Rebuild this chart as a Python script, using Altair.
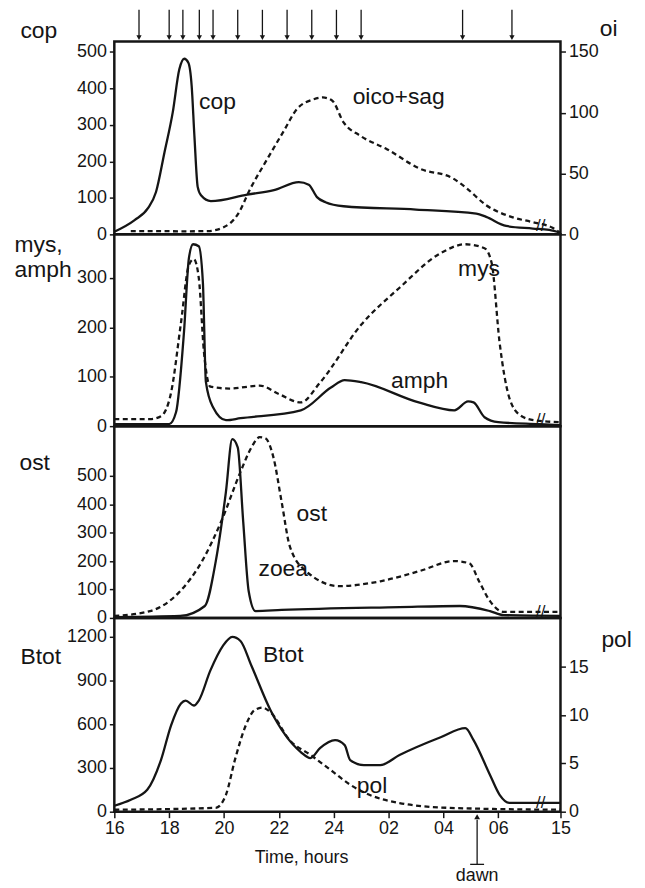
import altair as alt
import pandas as pd

FONT = "Liberation Sans"
INK = "#151515"

# ---- time axis ----
T_MIN, T_MAX = 16, 32.27
x_tick_vals = [16, 18, 20, 22, 24, 26, 28, 30, 32.27]
x_tick_labels = ["16", "18", "20", "22", "24", "02", "04", "06", "15"]
arrow_times = [16.9, 18.0, 18.5, 19.1, 19.6, 20.5, 21.4, 22.3, 23.2, 24.1, 25.0, 28.7, 30.5]
dawn_time = [29.23]

# ---- panel 1: cop (left) and oico+sag (right) ----
cop_t = [16.0, 16.74, 17.22, 17.52, 17.83, 18.13, 18.37, 18.55, 18.70, 18.82, 18.92, 19.04, 19.16,
         19.52, 20.85, 21.82, 22.73, 23.09, 23.39, 23.7, 24.36, 27.0, 29.2, 29.56, 30.29, 31.26,
         31.86, 32.27]
cop_v = [7, 39, 71, 116, 225, 334, 452, 481, 470, 407, 270, 130, 107,
         91, 109, 121, 143, 136, 102, 88, 77, 68, 57, 48, 23, 16,
         12, 4]
oi_t = [16.6, 17.5, 18.5, 19.4, 20.0, 20.49, 20.97, 21.58, 22.18, 22.66, 23.27, 23.6, 23.94,
        24.36, 24.97, 25.94, 27.14, 28.35, 28.84, 29.56, 30.53, 31.26, 31.98, 32.27]
oi_v = [2.7, 2.7, 2.5, 2.7, 6, 16, 38, 62, 85, 103, 111, 112.5, 110,
        92, 81, 70, 54, 46, 38, 24, 14, 10, 5.4, 1]

# ---- panel 2: mys (dashed), amph (solid) ----
mys_t = [16.0, 17.3, 17.7, 18.07, 18.43, 18.72, 18.9, 19.08, 19.27, 19.5, 20.2, 21.3, 22.0, 22.8,
         23.5, 25.0, 26.4, 27.9, 28.8, 29.5, 29.76, 30.05, 30.4, 30.8, 31.3, 32.27]
mys_v = [14, 14, 20, 68, 209, 326, 338, 300, 149, 80, 76, 82, 65, 48,
         88, 205, 280, 350, 368, 360, 330, 169, 58, 22, 12, 8]
amph_t = [16.0, 18.0, 18.25, 18.54, 18.72, 18.87, 19.08, 19.23, 19.34, 19.6, 20.07, 20.6, 22.8,
          23.9, 24.4, 25.0, 27.1, 28.4, 28.9, 29.1, 29.5, 30.0, 31.5, 32.27]
amph_v = [4, 4, 28, 190, 340, 368, 364, 290, 89, 38, 12, 16, 32,
          78, 93, 89, 48, 32, 50, 48, 18, 8, 4, 2]

# ---- panel 3: ost (dashed), zoea (solid) ----
ost_t = [16.0, 17.3, 18.4, 19.2, 19.9, 20.6, 21.0, 21.3, 21.5, 21.8, 22.1, 22.4, 23.0, 24.2,
         25.7, 27.1, 28.4, 28.95, 29.3, 29.7, 30.2, 32.27]
ost_v = [7, 24, 94, 200, 340, 514, 600, 636, 633, 566, 409, 252, 164, 112,
         129, 164, 200, 192, 129, 59, 21, 21]
zoea_t = [16.0, 18.4, 19.3, 19.7, 20.07, 20.3, 20.5, 20.7, 20.9, 21.15, 22.1, 26.4, 28.6, 29.7,
          30.2, 32.27]
zoea_v = [3, 7, 42, 200, 444, 629, 600, 339, 94, 24, 28, 38, 42, 24,
          10, 7]

# ---- panel 4: Btot (left, solid), pol (right, dashed) ----
btot_t = [16.0, 16.6, 17.2, 17.7, 18.07, 18.43, 18.6, 18.9, 19.08, 19.5, 19.96, 20.3, 20.6, 21.0,
          21.7, 22.24, 22.8, 23.15, 23.5, 24.05, 24.4, 24.6, 25.1, 25.7, 26.4, 27.9, 28.8, 29.1,
          29.7, 30.05, 30.4, 32.27]
btot_v = [41, 82, 150, 354, 593, 743, 763, 729, 763, 968, 1138, 1200, 1172, 1002,
          695, 525, 409, 368, 436, 491, 457, 354, 320, 320, 389, 511, 573, 491,
          252, 116, 61, 61]
pol_t = [16.0, 19.7, 20.07, 20.4, 20.8, 21.1, 21.4, 21.7, 22.4, 23.15, 23.9, 24.6, 25.3, 26.4,
         28.2, 32.27]
pol_v = [0.2, 0.4, 1.75, 5.4, 9, 10.5, 10.8, 10.3, 7.4, 5.9, 4.3, 2.8, 1.75, 0.9,
         0.4, 0.2]

# ---- in-plot labels ----
p1_lab_text = ["cop", "oico+sag"]
p1_lab_t = [19.76, 26.37]
p1_lab_v = [362, 375]
p2_lab_text = ["mys", "amph"]
p2_lab_t = [29.3, 27.13]
p2_lab_v = [318, 92]
p3_lab_text = ["ost", "zoea"]
p3_lab_t = [23.2, 22.16]
p3_lab_v = [367, 171]
p4_lab_text = ["Btot", "pol"]
p4_lab_t = [22.16, 25.4]
p4_lab_v = [1077, 177]

# break marks
brk_t = [31.55]
p1_brk_v, p2_brk_v, p3_brk_v, p4_brk_v = [22], [12], [22], [62]

# y domains / ticks
cop_dom, cop_ticks = [0, 528], [0, 100, 200, 300, 400, 500]
oi_dom, oi_ticks = [0, 158.4], [0, 50, 100, 150]
p2_dom, p2_ticks = [0, 388], [0, 100, 200, 300]
p3_dom, p3_ticks = [0, 675], [0, 100, 200, 300, 400, 500]
btot_dom, btot_ticks = [0, 1330], [0, 300, 600, 900, 1200]
pol_dom, pol_ticks = [0, 20.1], [0, 5, 10, 15]

W = 449
H1, H2, H3, H4 = 194, 193, 193, 195

DASH = [5, 3.5]
LW = 2.3


def df(ts, vs):
    return pd.DataFrame({"t": ts, "v": vs})


xscale = alt.Scale(domain=[T_MIN, T_MAX], nice=False, zero=False)

label_expr = ""
for val, lab in zip(x_tick_vals, x_tick_labels):
    label_expr += f"datum.value == {val} ? '{lab}' : "
label_expr += "''"

X_AXIS = alt.Axis(values=x_tick_vals, labelExpr=label_expr, title="Time, hours",
                  tickSize=6, tickWidth=1.5, tickColor=INK, domain=False, grid=False,
                  labelFont=FONT, labelFontSize=18, labelColor=INK, labelPadding=2,
                  labelFlush=False, labelOverlap=False,
                  titleFont=FONT, titleFontSize=18, titleFontWeight="normal", titleColor=INK,
                  titleX=188, titleY=46, titleBaseline="middle", titleAlign="center")


def X(bottom=False):
    return alt.X("t:Q", scale=xscale, axis=X_AXIS if bottom else None)


def yaxis(orient, ticks, title, tx, ty, talign="left", lh=25):
    return alt.Axis(orient=orient, values=ticks, format="d", title=title, tickSize=5,
                    tickWidth=1.5, tickColor=INK, domain=False, grid=False, labelFont=FONT,
                    labelFontSize=18, labelColor=INK, labelPadding=3, labelOverlap=False,
                    titleFont=FONT, titleFontSize=23, titleFontWeight="normal", titleColor=INK,
                    titleAngle=0, titleX=tx, titleY=ty, titleAlign=talign,
                    titleBaseline="alphabetic", titleLineHeight=lh)


def Y(dom, axis):
    return alt.Y("v:Q", scale=alt.Scale(domain=dom, nice=False, zero=True), axis=axis)


def line(ts, vs, dom, axis, dashed=False, bottom=False):
    kw = dict(interpolate="monotone", color=INK, strokeWidth=LW)
    if dashed:
        kw["strokeDash"] = DASH
    return alt.Chart(df(ts, vs)).mark_line(**kw).encode(x=X(bottom), y=Y(dom, axis))


def labels(texts, ts, vs, dom, axis, bottom=False):
    d = pd.DataFrame({"t": ts, "v": vs, "s": texts})
    return alt.Chart(d).mark_text(font=FONT, fontSize=23, color=INK, baseline="middle",
                                  align="center").encode(x=X(bottom), y=Y(dom, axis), text="s:N")


def brk(vs, dom, axis, bottom=False):
    d = pd.DataFrame({"t": brk_t, "v": vs})
    return alt.Chart(d).mark_text(text="//", font=FONT, fontSize=17, color=INK,
                                  baseline="middle", align="center").encode(
        x=X(bottom), y=Y(dom, axis))


# ---- panel 1 ----
arr_df = pd.DataFrame({"t": arrow_times})
arrows = alt.Chart(arr_df).mark_rule(color=INK, strokeWidth=1.3).encode(
    x=X(), y=alt.value(-32), y2=alt.value(-5))
heads = alt.Chart(arr_df).mark_point(shape="triangle-down", filled=True, color=INK, size=28,
                                     opacity=1).encode(x=X(), y=alt.value(-4))

ax1 = yaxis("left", cop_ticks, "cop", -95, -4)
p1_left = alt.layer(
    line(cop_t, cop_v, cop_dom, ax1),
    labels(p1_lab_text, p1_lab_t, p1_lab_v, cop_dom, ax1),
    brk(p1_brk_v, cop_dom, ax1),
    arrows, heads,
)
p1_right = line(oi_t, oi_v, oi_dom, yaxis("right", oi_ticks, "oi", 48, -6, "center"), dashed=True)
p1 = alt.layer(p1_left, p1_right).resolve_scale(y="independent").properties(width=W, height=H1)

# ---- panel 2 ----
ax2 = yaxis("left", p2_ticks, ["mys,", "amph"], -101, 17)
p2 = alt.layer(
    line(amph_t, amph_v, p2_dom, ax2),
    line(mys_t, mys_v, p2_dom, ax2, dashed=True),
    labels(p2_lab_text, p2_lab_t, p2_lab_v, p2_dom, ax2),
    brk(p2_brk_v, p2_dom, ax2),
).properties(width=W, height=H2)

# ---- panel 3 ----
ax3 = yaxis("left", p3_ticks, "ost", -96, 44)
p3 = alt.layer(
    line(zoea_t, zoea_v, p3_dom, ax3),
    line(ost_t, ost_v, p3_dom, ax3, dashed=True),
    labels(p3_lab_text, p3_lab_t, p3_lab_v, p3_dom, ax3),
    brk(p3_brk_v, p3_dom, ax3),
).properties(width=W, height=H3)

# ---- panel 4 ----
dawn_df = pd.DataFrame({"t": dawn_time, "s": ["dawn"]})
dawn_rule = alt.Chart(dawn_df).mark_rule(color=INK, strokeWidth=1.3).encode(
    x=X(True), y=alt.value(H4 + 8), y2=alt.value(H4 + 53))
dawn_head = alt.Chart(dawn_df).mark_point(shape="triangle-up", filled=True, color=INK, size=34,
                                          opacity=1).encode(x=X(True), y=alt.value(H4 + 5))
dawn_bar = alt.Chart(dawn_df).mark_point(shape="M-1,0L1,0", filled=False, color=INK, size=196,
                                         strokeWidth=1.3, opacity=1).encode(
    x=X(True), y=alt.value(H4 + 53))
dawn_txt = alt.Chart(dawn_df).mark_text(font=FONT, fontSize=18, color=INK, baseline="middle",
                                        align="center").encode(
    x=X(True), y=alt.value(H4 + 65), text="s:N")

ax4 = yaxis("left", btot_ticks, "Btot", -95, 46)
p4_left = alt.layer(
    line(btot_t, btot_v, btot_dom, ax4, bottom=True),
    labels(p4_lab_text, p4_lab_t, p4_lab_v, btot_dom, ax4, bottom=True),
    brk(p4_brk_v, btot_dom, ax4, bottom=True),
    dawn_rule, dawn_head, dawn_bar, dawn_txt,
)
p4_right = line(pol_t, pol_v, pol_dom, yaxis("right", pol_ticks, "pol", 56, 29, "center"),
                dashed=True, bottom=True)
p4 = alt.layer(p4_left, p4_right).resolve_scale(y="independent").properties(width=W, height=H4)

chart = alt.vconcat(p1, p2, p3, p4, spacing=0, bounds="flush").properties(
    padding={"left": 4, "top": -3, "right": 4, "bottom": 0},
    background="white",
).configure_view(stroke=INK, strokeWidth=2.5)

chart.save("out.html", embed_options={"renderer": "svg", "actions": False})
